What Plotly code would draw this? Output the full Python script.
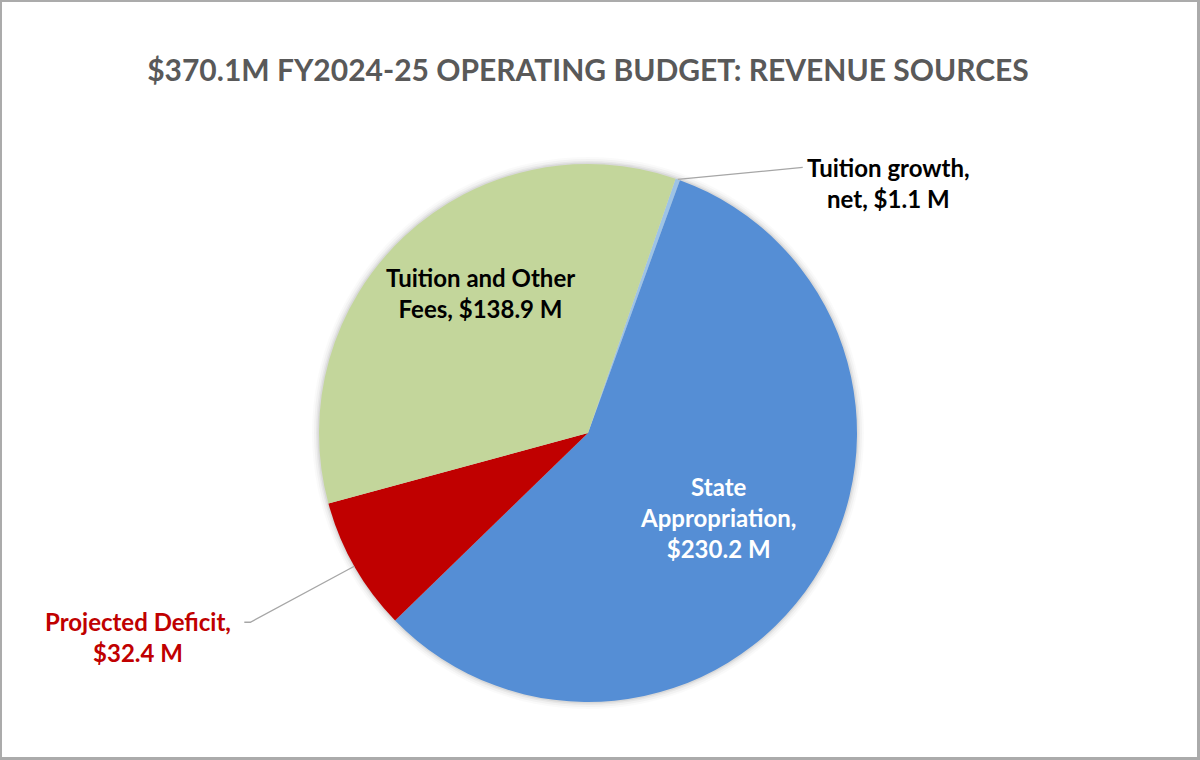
import math
import plotly.graph_objects as go

title = "$370.1M FY2024-25 OPERATING BUDGET: REVENUE SOURCES"
labels = ["Tuition growth, net", "State Appropriation", "Projected Deficit", "Tuition and Other Fees"]
values = [1.1, 230.2, 32.4, 138.9]
label_texts = ["Tuition growth,<br>net, $1.1 M",
               "State<br>Appropriation,<br>$230.2 M",
               "Projected Deficit,<br>$32.4 M",
               "Tuition and Other<br>Fees, $138.9 M"]
colors = ["#9DC3E6", "#558ED5", "#C00000", "#C3D69B"]
text_colors = ["black", "white", "#C00000", "black"]

W, H = 1200, 760
cx, cy, r = 588, 433, 269  # pie centre / radius in px
rotation = 19

def px(x):
    return x / W

def py(y):
    return 1 - y / H

# mid angle of each slice (clockwise from 12 o'clock)
total = sum(values)
mids = []
acc = rotation
for v in values:
    span = v / total * 360
    mids.append(acc + span / 2)
    acc += span

def polar(angle, rad):
    a = math.radians(angle)
    return cx + rad * math.sin(a), cy - rad * math.cos(a)

fig = go.Figure(go.Pie(
    labels=labels, values=values, sort=False, direction="clockwise",
    rotation=rotation, marker=dict(colors=colors, line=dict(width=0)),
    textinfo="none", hoverinfo="label+value", showlegend=False,
    domain=dict(x=[px(cx - r), px(cx + r)], y=[py(cy + r), py(cy - r)]),
))

shapes = []
# soft glow round the pie
for k, op in [(7, 0.02), (5, 0.03), (3, 0.045), (1.5, 0.06)]:
    shapes.append(dict(type="circle", xref="paper", yref="paper", layer="below",
                       x0=px(cx - r - k), x1=px(cx + r + k), y0=py(cy + r + k), y1=py(cy - r - k),
                       fillcolor=f"rgba(0,0,0,{op})", line=dict(width=0)))
# frame
shapes.append(dict(type="rect", xref="paper", yref="paper", x0=px(1), x1=px(1198), y0=py(758), y1=py(1),
                   line=dict(color="#ABABAB", width=2)))
shapes.append(dict(type="path", xref="paper", yref="paper",
                   path=f"M {px(1198.5)},{py(0)} L {px(1198.5)},{py(758.5)} L {px(0)},{py(758.5)}",
                   line=dict(color="#ABABAB", width=3)))

annotations = []
font_family = "Lato, 'Open Sans', sans-serif"
lab_size = 24

def add_label(i, x, y):
    annotations.append(dict(x=px(x), y=py(y), xref="paper", yref="paper", text=label_texts[i],
                            showarrow=False, align="center", xanchor="center", yanchor="middle",
                            font=dict(family=font_family, size=lab_size, color=text_colors[i],
                                      weight="bold")))

# inside labels (angle nudge, radius fraction)
for i, da, rf in [(1, 0, 0.575), (3, 5.7, 0.655)]:
    add_label(i, *polar(mids[i] + da, r * rf))

# tuition growth: leader line to the right
ex, ey = polar(mids[0], r)
lx, ly = ex + 125, ey - 12
shapes.append(dict(type="line", xref="paper", yref="paper", x0=px(ex), y0=py(ey), x1=px(lx), y1=py(ly),
                   line=dict(color="#A6A6A6", width=1.3)))
add_label(0, lx + 86, ly + 16)

# projected deficit: leader line to the lower left
ex, ey = polar(mids[2], r)
kx, ky = ex - 104, ey + 56
shapes.append(dict(type="path", xref="paper", yref="paper",
                   path=f"M {px(ex)},{py(ey)} L {px(kx)},{py(ky)} L {px(kx - 6)},{py(ky)}",
                   line=dict(color="#A6A6A6", width=1.3)))
add_label(2, kx - 112, ky + 15)

fig.update_layout(
    width=W, height=H, margin=dict(l=0, r=0, t=0, b=0),
    paper_bgcolor="white", plot_bgcolor="white",
    title=dict(text=title, x=px(588), xanchor="center", y=py(70), yanchor="middle", yref="container",
               font=dict(family=font_family, size=30, color="#595959", weight="bold")),
    shapes=shapes, annotations=annotations,
)

fig.write_html("out.html", config={"displayModeBar": False},
               post_script="document.body.style.margin='0';")
